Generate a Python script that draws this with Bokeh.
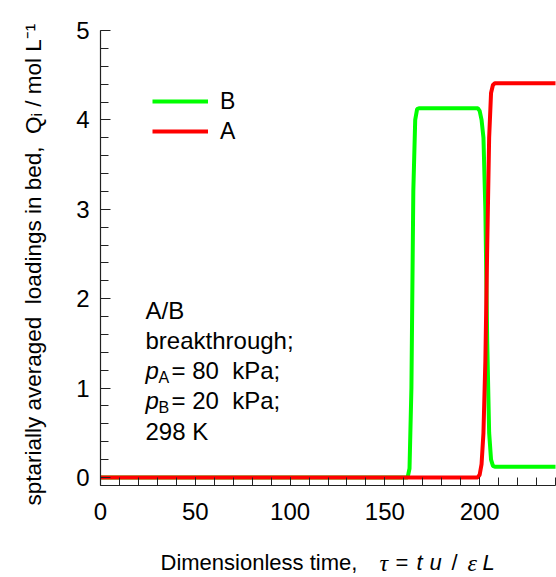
import math
from bokeh.plotting import figure
from bokeh.models import Label, Legend, LegendItem, FixedTicker, Range1d
from bokeh.embed import file_html
from bokeh.resources import INLINE

# ---- data ----
tau_B = [0, 160, 162, 163, 164, 165, 166, 167, 168, 198, 199, 200, 201, 202, 203, 204, 205, 206, 207, 208, 240]
Q_B = [0, 0, 0.0, 0.1, 1.0, 3.2, 4.0, 4.12, 4.13, 4.13, 4.13, 4.1, 4.0, 3.8, 3.0, 1.5, 0.5, 0.2, 0.13, 0.12, 0.12]

tau_A = [0, 199, 200, 201, 202, 203, 204, 205, 206, 207, 208, 240]
Q_A = [0, 0, 0.03, 0.15, 0.5, 1.3, 2.6, 3.8, 4.3, 4.39, 4.41, 4.41]

x_major = [0, 50, 100, 150, 200]
x_minor = list(range(0, 241, 10))
y_major = [0, 1, 2, 3, 4, 5]
y_minor = [round(0.2 * i, 1) for i in range(26)]

FONT = "Liberation Sans"
SERIF = "Liberation Serif"
NB = "\u00a0"
W, H = 556, 577
# plot-area placement in the canvas (pixels)
FL, FR, FT, FB = 100, 555, 30, 485
X0, X1 = 0, 240
Y0, Y1 = -0.09, 5
sx = (FR - FL) / (X1 - X0)
sy = (FB - FT) / (Y1 - Y0)

p = figure(width=W, height=H,
           x_range=Range1d(X0 - FL / sx, X1 + (W - FR) / sx),
           y_range=Range1d(Y0 - (H - FB) / sy, Y1 + FT / sy),
           output_backend="svg", toolbar_location=None,
           min_border=0, min_border_left=0, min_border_right=0,
           min_border_top=0, min_border_bottom=0)
p.xgrid.visible = False
p.ygrid.visible = False
p.outline_line_color = None
p.background_fill_color = "white"

xa = p.xaxis[0]
ya = p.yaxis[0]
xa.fixed_location = Y0
xa.bounds = (X0, X1)
ya.fixed_location = X0
ya.bounds = (Y0, Y1)

for ax in (xa, ya):
    ax.axis_line_color = "#222222"
    ax.axis_line_width = 1.2
    ax.major_tick_line_color = "#222222"
    ax.minor_tick_line_color = "#222222"
    ax.major_tick_out = 0
    ax.minor_tick_out = 0
    ax.major_label_text_font = FONT
    ax.major_label_text_font_size = "24px"
    ax.major_label_text_color = "black"

xa.ticker = FixedTicker(ticks=x_major, minor_ticks=x_minor)
ya.ticker = FixedTicker(ticks=y_major, minor_ticks=y_minor)
xa.major_tick_in = 8
xa.minor_tick_in = 8
ya.major_tick_in = 10
ya.minor_tick_in = 8
xa.major_label_standoff = 17
ya.major_label_standoff = 11

rB = p.line(tau_B, Q_B, line_color="#00ff00", line_width=4)
rA = p.line(tau_A, Q_A, line_color="#ff0000", line_width=4)

legend = Legend(items=[LegendItem(label="B", renderers=[rB]), LegendItem(label="A", renderers=[rA])],
                location=(152, H - 146), glyph_width=56, glyph_height=30, label_height=30,
                spacing=0, padding=0, margin=0, label_standoff=12,
                border_line_alpha=0, background_fill_alpha=0,
                label_text_font=FONT, label_text_font_size="23px", label_text_color="black")
p.add_layout(legend, "center")

def lab(x, y, text, size="24px", style="normal", angle=0.0, align="left", font=FONT):
    # x, y: canvas pixels from the top-left corner
    p.add_layout(Label(x=x, y=H - y, x_units="screen", y_units="screen", text=text,
                       text_font=font, text_font_size=size, text_font_style=style,
                       text_baseline="middle", text_align=align, angle=angle,
                       text_color="black"))

# annotation block
lab(145, 310, "A/B")
lab(145, 340, "breakthrough;")
lab(145, 370, "p", style="italic")
lab(158, 377, "A", size="16px")
lab(171, 370, "= 80" + NB + " kPa;")
lab(145, 400, "p", style="italic")
lab(158, 407, "B", size="16px")
lab(171, 400, "= 20" + NB + " kPa;")
lab(145, 431, "298 K")

# x-axis title
XS = "22px"
XY = 562
lab(160, XY, "Dimensionless time,", size=XS)
lab(379, XY, "\u03c4", size="24px", style="italic", font=SERIF)
lab(395, XY, "=", size=XS)
lab(416, XY, "t", size=XS, style="italic")
lab(429, XY, "u", size=XS, style="italic")
lab(451, XY, "/", size=XS)
lab(467, XY, "\u03b5", size="24px", style="italic", font=SERIF)
lab(482, XY, "L", size=XS, style="italic")

# y-axis title (rotated)
lab(33, 505, "sptarially averaged" + NB + " loadings in bed," + NB + " Q\u1d62 / mol L\u207b\u00b9",
    size="22.5px", angle=math.pi / 2)

open("out.html", "w").write(file_html(p, INLINE))
